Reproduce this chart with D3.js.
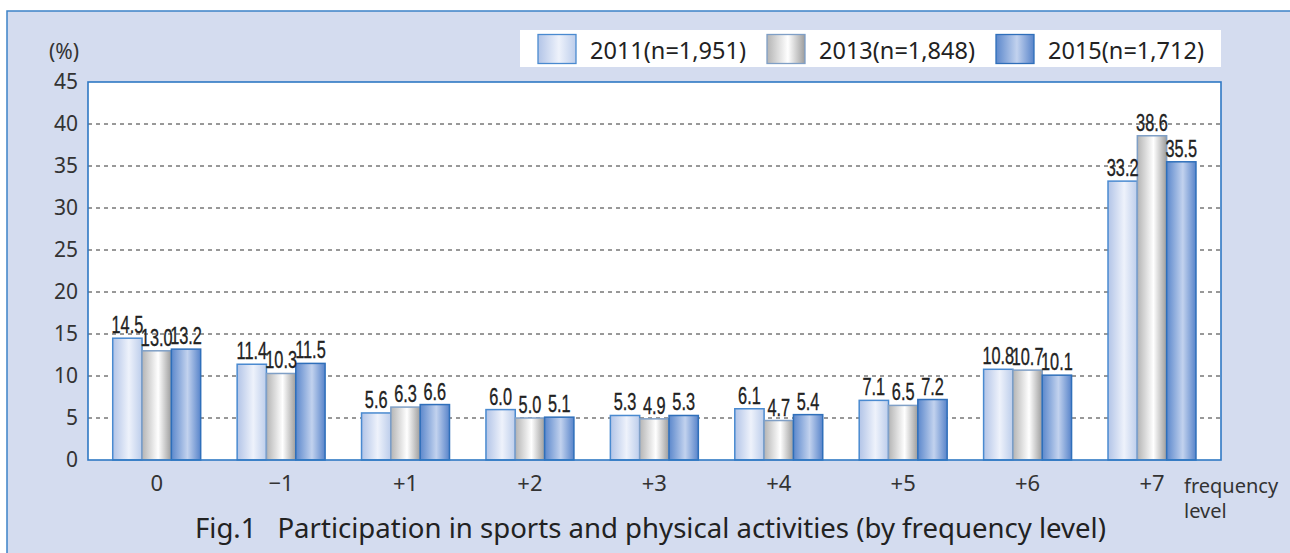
<!DOCTYPE html>
<html><head><meta charset="utf-8">
<script src="https://cdn.jsdelivr.net/npm/d3@7"></script>
<style>body{margin:0;background:#fff;}svg{display:block;}</style>
</head><body>
<svg id="c" width="1290" height="553"></svg>
<script>
const categories = ["0","\u22121","+1","+2","+3","+4","+5","+6","+7"];
const series = ["2011","2013","2015"];
const seriesLabels = ["2011(n=1,951)","2013(n=1,848)","2015(n=1,712)"];
const v2011 = [14.5,11.4,5.6,6.0,5.3,6.1,7.1,10.8,33.2];
const v2013 = [13.0,10.3,6.3,5.0,4.9,4.7,6.5,10.7,38.6];
const v2015 = [13.2,11.5,6.6,5.1,5.3,5.4,7.2,10.1,35.5];
const yTicks = [0,5,10,15,20,25,30,35,40,45];
const titleText = "Fig.1\u2002 Participation in sports and physical activities (by frequency level)";
const values = [v2011, v2013, v2015];

const svg = d3.select("#c");
const W = 1290, H = 553;
const plot = {l:88, t:82, r:1221, b:460};

// gradients
const defs = svg.append("defs");
const grads = [
  [["0%","#b2c4e7"],["55%","#eef2fb"],["100%","#bccdeb"]],
  [["0%","#b4b4b4"],["55%","#ffffff"],["100%","#9c9c9c"]],
  [["0%","#5c88cc"],["55%","#c2d2ee"],["100%","#5884ca"]]
];
grads.forEach((g,i)=>{
  const lg = defs.append("linearGradient").attr("id","g"+i).attr("x1","0%").attr("x2","100%").attr("y1","0%").attr("y2","0%");
  g.forEach(s=>lg.append("stop").attr("offset",s[0]).attr("stop-color",s[1]));
});
const strokes = ["#4a8ad0","#7f9fc6","#2f6fba"];

// outer frame
svg.append("rect").attr("x",7).attr("y",11).attr("width",W+20).attr("height",H+20)
  .attr("fill","#d4dcef").attr("stroke","#3d82c8").attr("stroke-width",1.5);

// plot area
svg.append("rect").attr("x",plot.l).attr("y",plot.t).attr("width",plot.r-plot.l).attr("height",plot.b-plot.t)
  .attr("fill","#fff");

const y = d3.scaleLinear().domain([0,45]).range([plot.b, plot.t]);
const x0 = d3.scaleBand().domain(categories).range([94.5,1214.2]).paddingInner(0.293).paddingOuter(0.1465);
const x1 = d3.scaleBand().domain(series).range([0,x0.bandwidth()]);

// grid
svg.append("g").selectAll("line").data(yTicks.filter(d=>d>0&&d<45)).join("line")
  .attr("x1",plot.l).attr("x2",plot.r).attr("y1",d=>y(d)).attr("y2",d=>y(d))
  .attr("stroke","#333").attr("stroke-width",1).attr("stroke-dasharray","4,4");

// bars
const gBars = svg.append("g");
categories.forEach((c,ci)=>{
  series.forEach((s,si)=>{
    const v = values[si][ci];
    gBars.append("rect")
      .attr("x",x0(c)+x1(s)).attr("y",y(v))
      .attr("width",x1.bandwidth()).attr("height",y(0)-y(v))
      .attr("fill","url(#g"+si+")").attr("stroke",strokes[si]).attr("stroke-width",1.5);
  });
});
// value labels (condensed)
categories.forEach((c,ci)=>{
  series.forEach((s,si)=>{
    const v = values[si][ci];
    const cx = x0(c)+x1(s)+x1.bandwidth()/2;
    svg.append("text")
      .attr("transform",`translate(${cx},${y(v)-5}) scale(0.68,1)`)
      .attr("text-anchor","middle")
      .attr("font-family","'Liberation Sans',Arial,sans-serif")
      .attr("font-size",24).attr("fill","#222").attr("stroke","#222").attr("stroke-width",0.35)
      .text(v.toFixed(1));
  });
});

// plot border
svg.append("rect").attr("x",plot.l).attr("y",plot.t).attr("width",plot.r-plot.l).attr("height",plot.b-plot.t)
  .attr("fill","none").attr("stroke","#2f78c4").attr("stroke-width",1.6);

// y axis
const yAxis = d3.axisLeft(y).tickValues(yTicks).tickSize(0).tickPadding(10);
const ya = svg.append("g").attr("transform",`translate(${plot.l},0)`).call(yAxis);
ya.select(".domain").remove();
ya.selectAll("text").attr("font-family","'Noto Sans',sans-serif").attr("font-size",21).attr("fill","#333");

svg.append("text").attr("x",64).attr("y",59).attr("text-anchor","middle")
  .attr("font-family","'Noto Sans',sans-serif").attr("font-size",21).attr("fill","#333").text("(%)");

// x axis
const xAxis = d3.axisBottom(x0).tickSize(0).tickPadding(15);
const xa = svg.append("g").attr("transform",`translate(0,${plot.b})`).call(xAxis);
xa.select(".domain").remove();
xa.selectAll("text").attr("font-family","'Noto Sans',sans-serif").attr("font-size",22).attr("fill","#333");

svg.append("text").attr("x",1184).attr("y",493)
  .attr("font-family","'Noto Sans',sans-serif").attr("font-size",20).attr("fill","#333").text("frequency");
svg.append("text").attr("x",1184).attr("y",518)
  .attr("font-family","'Noto Sans',sans-serif").attr("font-size",20).attr("fill","#333").text("level");

// title
svg.append("text").attr("x",195).attr("y",538)
  .attr("font-family","'Noto Sans',sans-serif").attr("font-size",27).attr("fill","#222")
  .attr("textLength",911).attr("lengthAdjust","spacingAndGlyphs").text(titleText);

// legend
svg.append("rect").attr("x",520).attr("y",30).attr("width",701).attr("height",37).attr("fill","#fff");
const legX = [538, 767, 996];
series.forEach((s,i)=>{
  svg.append("rect").attr("x",legX[i]).attr("y",34.5).attr("width",38).attr("height",29)
    .attr("fill","url(#g"+i+")").attr("stroke",strokes[i]).attr("stroke-width",1.3);
  svg.append("text").attr("x",legX[i]+52).attr("y",59)
    .attr("font-family","'Noto Sans',sans-serif").attr("font-size",24).attr("fill","#222")
    .attr("textLength",156).attr("lengthAdjust","spacingAndGlyphs").text(seriesLabels[i]);
});
</script>
</body></html>
